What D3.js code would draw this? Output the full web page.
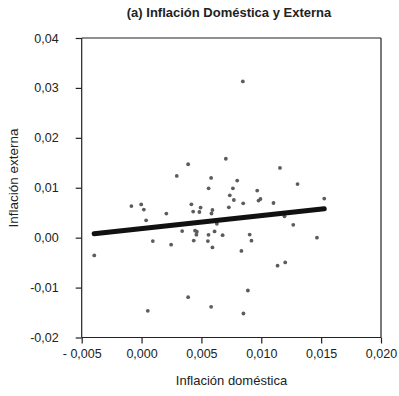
<!DOCTYPE html>
<html>
<head>
<meta charset="utf-8">
<script src="https://cdn.jsdelivr.net/npm/d3@7"></script>
<style>
  html, body { margin: 0; padding: 0; background: #fff; }
  text { font-family: "Liberation Sans", Arial, sans-serif; fill: #222; }
</style>
</head>
<body>
<svg id="chart"></svg>
<script>
// inflación doméstica (x) / inflación externa (y)
const domestica = [
  -0.00395, -0.00085, -0.00003, 0.00019, 0.00038, 0.00094, 0.00052, 0.00207, 0.00247, 0.00294,
  0.00339, 0.00389, 0.00389, 0.00416, 0.00431, 0.00436, 0.00447, 0.00462, 0.00458, 0.00483,
  0.00493, 0.00560, 0.00581, 0.00559, 0.00554, 0.00581, 0.00584, 0.00592, 0.00592, 0.00610,
  0.00629, 0.00677, 0.00704, 0.00729, 0.00737, 0.00763, 0.00771, 0.00799, 0.00849, 0.00834,
  0.00846, 0.00851, 0.00888, 0.00903, 0.00918, 0.00966, 0.00977, 0.00993, 0.01102, 0.01136,
  0.01156, 0.01194, 0.01200, 0.01267, 0.01303, 0.01465, 0.01526
]
const externa = [
  -0.00355, 0.00632, 0.00666, 0.00562, 0.00347, -0.00068, -0.01465, 0.00482, -0.00140, 0.01236,
  0.00132, 0.01471, -0.01192, 0.00668, 0.00522, -0.00058, 0.00140, 0.00120, 0.00060, 0.00514,
  0.00602, 0.00989, 0.01196, 0.00056, -0.00068, -0.01385, 0.00484, 0.00554, -0.00195, 0.00126,
  0.00277, 0.00050, 0.01581, 0.00608, 0.00849, 0.00989, 0.00755, 0.01144, 0.00688, -0.00265,
  0.03131, -0.01519, -0.01058, 0.00062, -0.00060, 0.00943, 0.00743, 0.00775, 0.00694, -0.00562,
  0.01397, 0.00427, -0.00496, 0.00257, 0.01074, 0.00000, 0.00783
]
// recta de tendencia (extremos)
const trendX = [-0.00396, 0.01526]
const trendY = [0.0008, 0.0058]

const xTicks = [-0.005, 0, 0.005, 0.010, 0.015, 0.020]
const yTicks = [-0.02, -0.01, 0, 0.01, 0.02, 0.03, 0.04]

const width = 399
const height = 396
const margin = { top: 38, right: 18, bottom: 58.5, left: 81.7 }

const svg = d3.select('#chart')
  .attr('width', width)
  .attr('height', height)

const x = d3.scaleLinear()
  .domain([-0.005, 0.020])
  .range([margin.left, width - margin.right])

const y = d3.scaleLinear()
  .domain([-0.02, 0.04])
  .range([height - margin.bottom, margin.top])

const fmtX = d => d < 0 ? '- ' + d3.format('.3f')(-d).replace('.', ',') : d3.format('.3f')(d).replace('.', ',')
const fmtY = d => d3.format('.2f')(d).replace('.', ',').replace('−', '-')

const xAxis = svg.append('g')
  .attr('transform', `translate(0,${height - margin.bottom})`)
  .call(d3.axisBottom(x).tickValues(xTicks).tickFormat(fmtX).tickSize(6).tickPadding(6))

const yAxis = svg.append('g')
  .attr('transform', `translate(${margin.left},0)`)
  .call(d3.axisLeft(y).tickValues(yTicks).tickFormat(fmtY).tickSize(6).tickPadding(17))

for (const g of [xAxis, yAxis]) {
  g.selectAll('path, line').attr('stroke', '#222').attr('stroke-width', 1.2)
  g.selectAll('text')
    .style('font-family', '"Liberation Sans", Arial, sans-serif')
    .style('font-size', '12.5px')
    .attr('fill', '#222')
}
yAxis.select('.domain').attr('d', `M0,${y(-0.02)}V${y(0.04)}`)
xAxis.select('.domain').attr('d', `M${x(-0.005)},0H${x(0.020)}`)

// top and right frame lines
svg.append('line')
  .attr('x1', x(-0.005)).attr('x2', x(0.020))
  .attr('y1', y(0.04)).attr('y2', y(0.04))
  .attr('stroke', '#222').attr('stroke-width', 1.2)
svg.append('line')
  .attr('x1', x(0.020)).attr('x2', x(0.020))
  .attr('y1', y(0.04)).attr('y2', y(-0.02))
  .attr('stroke', '#222').attr('stroke-width', 1.2)

const data = domestica.map((d, i) => ({ x: d, y: externa[i] }))

svg.append('g')
  .selectAll('circle')
  .data(data)
  .join('circle')
  .attr('cx', d => x(d.x))
  .attr('cy', d => y(d.y))
  .attr('r', 1.9)
  .attr('fill', '#5c5c5c')

const line = d3.line()
  .x(d => x(d[0]))
  .y(d => y(d[1]))

svg.append('path')
  .datum(trendX.map((d, i) => [d, trendY[i]]))
  .attr('fill', 'none')
  .attr('stroke', '#111')
  .attr('stroke-width', 5)
  .attr('stroke-linecap', 'round')
  .attr('d', line)

svg.append('text')
  .attr('x', 229)
  .attr('y', 17)
  .attr('text-anchor', 'middle')
  .style('font-size', '13px')
  .style('font-weight', 'bold')
  .text('(a) Inflación Doméstica y Externa')

svg.append('text')
  .attr('x', 231.5)
  .attr('y', 385)
  .attr('text-anchor', 'middle')
  .style('font-size', '13px')
  .text('Inflación doméstica')

svg.append('text')
  .attr('transform', 'translate(18,178) rotate(-90)')
  .attr('text-anchor', 'middle')
  .style('font-size', '13.5px')
  .text('Inflación externa')
</script>
</body>
</html>
